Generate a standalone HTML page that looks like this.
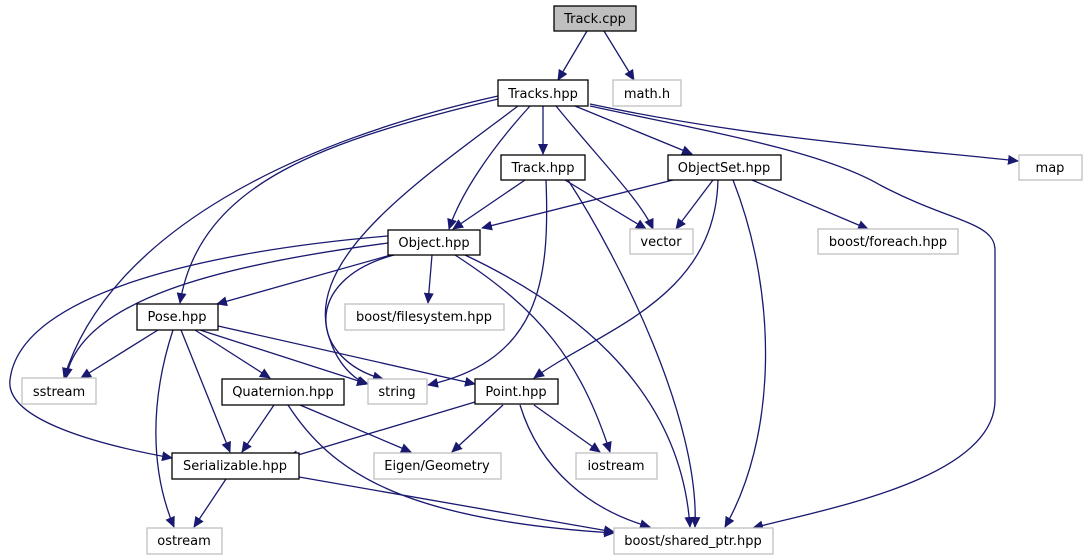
<!DOCTYPE html>
<html><head><meta charset="utf-8"><style>
html,body{margin:0;padding:0;background:#fff;}
svg{display:block;}
text{font-family:"DejaVu Sans","Liberation Sans",sans-serif;font-size:13px;fill:#000;text-anchor:middle;}
.b{fill:#fff;stroke:#000;stroke-width:1.3;}
.g{fill:#fff;stroke:#bfbfbf;stroke-width:1.3;}
.e{fill:none;stroke:#191970;stroke-width:1.3;}
</style></head><body>
<svg width="1089" height="560" viewBox="0 0 1089 560" xmlns="http://www.w3.org/2000/svg">
<defs><marker id="a" markerWidth="11" markerHeight="10" refX="10" refY="5" orient="auto" markerUnits="userSpaceOnUse"><path d="M0,0 L11,5 L0,10 z" fill="#191970"/></marker></defs>
<g class="e" marker-end="url(#a)">
<path d="M587,31 L558,80"/>
<path d="M604,31 L634,80"/>
<path d="M590,104 C760,140 920,150 1018,161"/>
<path d="M543,106 L543,154"/>
<path d="M575,106 L692,154"/>
<path d="M556,106 C600,160 640,200 653,229"/>
<path d="M530,106 C490,150 460,195 449,229"/>
<path d="M518,106 C420,180 300,260 330,340 C340,370 360,382 367,384"/>
<path d="M498,99 C330,140 200,180 180,303"/>
<path d="M498,96 C300,140 110,230 64,378"/>
<path d="M590,106 C700,130 820,150 880,185 C950,222 995,222 995,250 L995,400 C995,480 820,510 753,528"/>
<path d="M525,180 L453,229"/>
<path d="M565,180 L646,229"/>
<path d="M546,180 C550,280 540,360 428,385"/>
<path d="M568,180 C620,260 700,420 695,527"/>
<path d="M673,180 L482,228"/>
<path d="M713,180 L676,229"/>
<path d="M752,180 L868,229"/>
<path d="M718,180 C715,300 600,330 534,378"/>
<path d="M733,180 C780,300 775,440 725,527"/>
<path d="M432,255 L428,303"/>
<path d="M398,253 L217,304"/>
<path d="M388,243 C220,265 80,300 66,378"/>
<path d="M394,255 C300,280 310,360 383,379"/>
<path d="M388,236 C220,250 20,290 10,380 C5,420 100,445 172,458"/>
<path d="M455,255 C540,310 580,360 610,452"/>
<path d="M465,255 C560,300 680,380 690,527"/>
<path d="M158,330 L81,378"/>
<path d="M200,330 L368,384"/>
<path d="M218,326 L475,384"/>
<path d="M195,330 L270,378"/>
<path d="M181,330 L230,452"/>
<path d="M173,330 C150,400 150,470 174,527"/>
<path d="M274,405 L242,452"/>
<path d="M300,405 L411,452"/>
<path d="M288,405 C330,470 400,520 614,533"/>
<path d="M475,402 L288,458"/>
<path d="M503,405 L452,452"/>
<path d="M534,405 L600,452"/>
<path d="M520,405 C540,470 590,510 650,527"/>
<path d="M226,479 L194,527"/>
<path d="M299,477 L614,532"/>
</g>
<rect x="554" y="6" width="82" height="25" fill="#bfbfbf" stroke="#000" stroke-width="1.3"/><text x="595" y="23">Track.cpp</text>
<rect class="b" x="498" y="80" width="90" height="26"/><text x="543" y="98">Tracks.hpp</text>
<rect class="g" x="613" y="80" width="68" height="26"/><text x="647" y="98">math.h</text>
<rect class="g" x="1019" y="155" width="63" height="25"/><text x="1050" y="172">map</text>
<rect class="b" x="501" y="155" width="84" height="25"/><text x="543" y="172">Track.hpp</text>
<rect class="b" x="668" y="155" width="113" height="25"/><text x="724" y="172">ObjectSet.hpp</text>
<rect class="g" x="630" y="229" width="63" height="25"/><text x="661" y="246">vector</text>
<rect class="g" x="818" y="229" width="140" height="25"/><text x="888" y="246">boost/foreach.hpp</text>
<rect class="b" x="388" y="230" width="92" height="25"/><text x="434" y="247">Object.hpp</text>
<rect class="g" x="345" y="304" width="159" height="26"/><text x="424" y="321">boost/filesystem.hpp</text>
<rect class="b" x="137" y="304" width="81" height="26"/><text x="177" y="321">Pose.hpp</text>
<rect class="g" x="22" y="378" width="74" height="26"/><text x="59" y="396">sstream</text>
<rect class="g" x="368" y="379" width="59" height="25"/><text x="397" y="396">string</text>
<rect class="b" x="475" y="379" width="83" height="25"/><text x="516" y="396">Point.hpp</text>
<rect class="b" x="222" y="379" width="122" height="26"/><text x="283" y="396">Quaternion.hpp</text>
<rect class="b" x="172" y="453" width="127" height="26"/><text x="235" y="470">Serializable.hpp</text>
<rect class="g" x="374" y="453" width="127" height="26"/><text x="437" y="470">Eigen/Geometry</text>
<rect class="g" x="576" y="453" width="81" height="26"/><text x="616" y="470">iostream</text>
<rect class="g" x="147" y="528" width="75" height="26"/><text x="184" y="545">ostream</text>
<rect class="g" x="614" y="528" width="159" height="26"/><text x="693" y="545">boost/shared_ptr.hpp</text>
</svg>
</body></html>
